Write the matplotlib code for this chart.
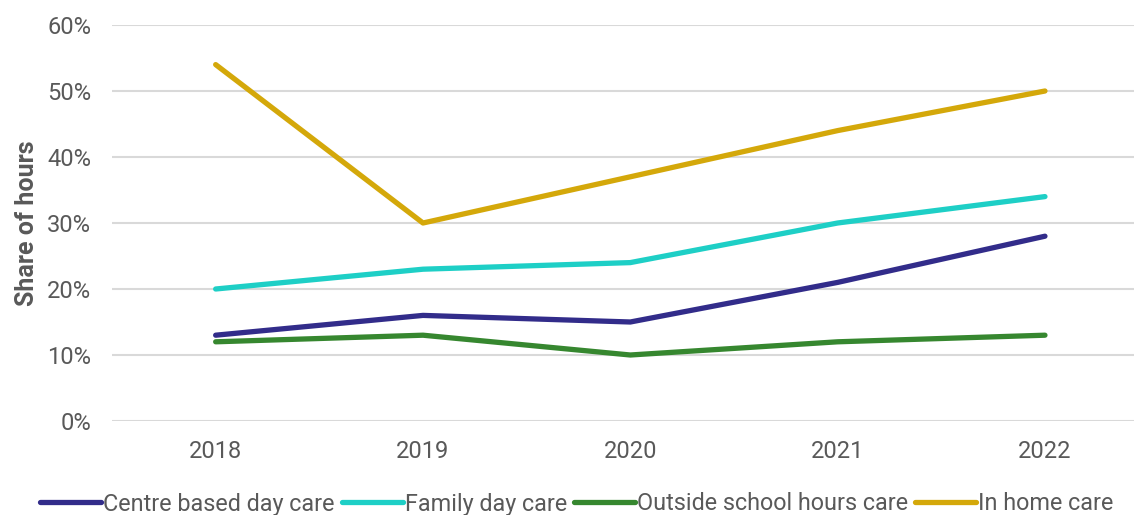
import matplotlib
matplotlib.use('Agg')
import matplotlib.pyplot as plt

years = ['2018', '2019', '2020', '2021', '2022']
centre_based = [13, 16, 15, 21, 28]
family_day = [20, 23, 24, 30, 34]
outside_school = [12, 13, 10, 12, 13]
in_home = [54, 30, 37, 44, 50]

series = [
    ('Centre based day care', centre_based, '#322C8A'),
    ('Family day care', family_day, '#1ECFC6'),
    ('Outside school hours care', outside_school, '#36872F'),
    ('In home care', in_home, '#D4A80A'),
]

GREY = '#595959'
plt.rcParams['font.family'] = ['Roboto', 'DejaVu Sans']

fig = plt.figure(figsize=(11.34, 5.15), dpi=100)
ax = fig.add_axes([112 / 1134, 1 - 421 / 515, 1 - 112 / 1134, (421 - 25) / 515])

x = range(len(years))
for name, vals, col in series:
    ax.plot(x, vals, color=col, linewidth=3.8, solid_capstyle='round',
            solid_joinstyle='round', label=name, zorder=3)

ax.set_ylim(0, 60)
ax.set_yticks(range(0, 61, 10))
ax.set_yticklabels([f'{v}%' for v in range(0, 61, 10)])
ax.set_xlim(-0.5, (1134 - 216) / 207.25)
ax.set_xticks(list(x))
ax.set_xticklabels(years)
ax.grid(axis='y', color='#D9D9D9', linewidth=1.5, zorder=0)
for s in ax.spines.values():
    s.set_visible(False)
ax.tick_params(axis='both', length=0, labelsize=17, colors=GREY)
ax.tick_params(axis='y', pad=15)
ax.tick_params(axis='x', pad=14)
ax.set_ylabel('Share of hours', fontsize=18, fontweight='bold', color=GREY, labelpad=6)

leg = fig.legend(loc='center', bbox_to_anchor=(577 / 1134, 1 - 504 / 515), ncol=4,
                 frameon=False, fontsize=16.8, handlelength=2.6, handletextpad=0.1,
                 columnspacing=0.3, borderaxespad=0)
for t in leg.get_texts():
    t.set_color(GREY)

plt.savefig('out.png', dpi=100)
